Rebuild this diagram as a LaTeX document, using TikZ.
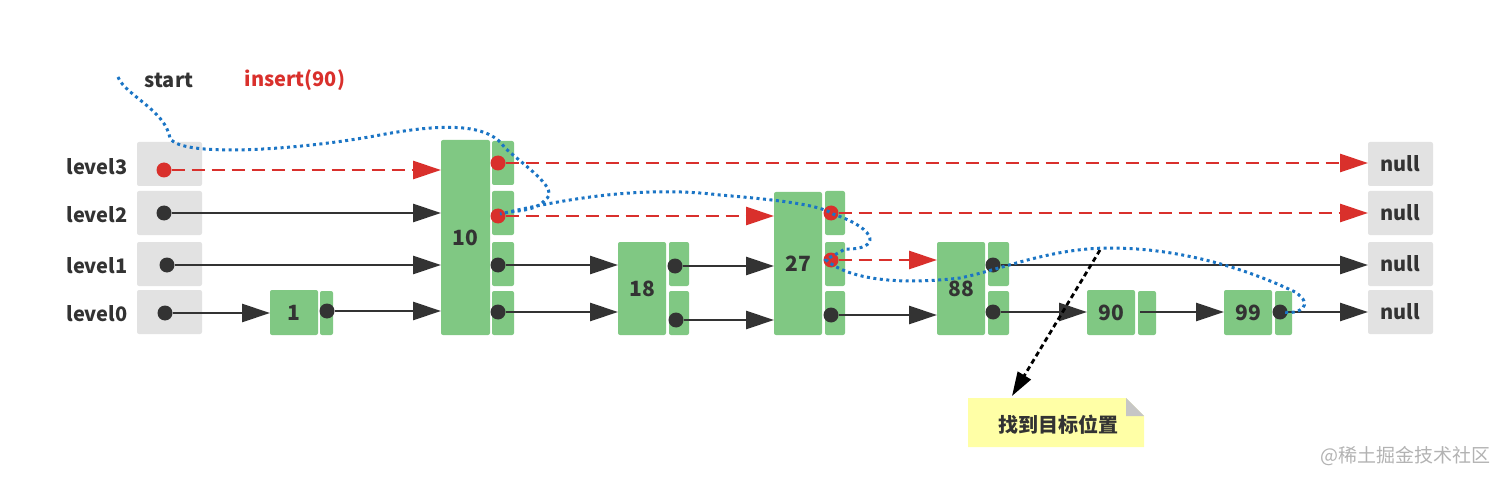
\documentclass[tikz,border=0pt]{standalone}
\usepackage{fontspec}
\setmainfont{Noto Sans CJK SC}
\usetikzlibrary{arrows.meta}
\definecolor{gr}{HTML}{80C883}
\definecolor{gy}{HTML}{E2E2E2}
\definecolor{rd}{HTML}{D9302C}
\definecolor{bk}{HTML}{333333}
\definecolor{bl}{HTML}{1B75C5}
\definecolor{yl}{HTML}{FFFFA6}
\begin{document}
\begin{tikzpicture}[x=1pt,y=-1pt,
  cellg/.style={fill=gy,draw=none,rounded corners=2pt},
  cellb/.style={fill=gr,draw=none,rounded corners=2pt},
  lbl/.style={font=\bfseries\fontsize{20}{22}\selectfont,text=bk},
  num/.style={font=\bfseries\fontsize{21}{23}\selectfont,text=bk},
  dot/.style={circle,fill=bk,inner sep=0,minimum size=15pt},
  rdot/.style={circle,fill=rd,inner sep=0,minimum size=15pt},
  ar/.style={line width=2.8pt,draw=bk,-{Triangle[length=28pt,width=18pt]}},
  rar/.style={line width=2.8pt,draw=rd,dash pattern=on 13pt off 7pt,-{Triangle[length=28pt,width=18pt,fill=rd]}}]
\useasboundingbox (0,0) rectangle (1512,481);
% labels
\node[lbl] (l3) at (97,167) {level3};
\node[lbl] (l2) at (97,215) {level2};
\node[lbl] (l1) at (97,266) {level1};
\node[lbl] (l0) at (97,314) {level0};
\node[lbl] (st) at (169,80) {start};
\node[lbl,text=rd] (ins) at (295,80) {insert(90)};
% start and null columns
\foreach \r/\a/\b in {3/142/186,2/191/235,1/242/286,0/290/334}{
  \path[cellg] (137,\a) rectangle (202,\b);
  \path[cellg] (1368,\a) rectangle (1433,\b);
  \node[lbl] (null\r) at (1400,{(\a+\b)/2}) {null};
}
% body nodes
\newcommand{\bodyn}[5]{%
  \path[cellb] (#2,#4) rectangle (#3,335);
  \node[num] (#1) at ({(#2+#3)/2},{(#4+335)/2}) {#5};
}
\bodyn{n1}{270}{318}{290}{1}
\bodyn{n10}{441}{490}{140}{10}
\bodyn{n18}{618}{666}{242}{18}
\bodyn{n27}{774}{822}{192}{27}
\bodyn{n88}{937}{985}{242}{88}
\bodyn{n90}{1087}{1135}{290}{90}
\bodyn{n99}{1224}{1272}{290}{99}
% side cells
\foreach \x/\w/\rows in {320/13/0,492/22/{0,1,2,3},669/20/{0,1},825/20/{0,1,2},988/21/{0,1},1138/18/0,1275/17/0}{
  \foreach \r in \rows{
    \pgfmathsetmacro\ya{ifthenelse(\r==3,141,ifthenelse(\r==2,191,ifthenelse(\r==1,242,291)))}
    \pgfmathsetmacro\yb{\ya+44}
    \path[cellb] (\x,\ya) rectangle ({\x+\w},\yb);
  }
}
% dots
\node[rdot] (s3) at (164,170) {};
\node[dot] (s2) at (164,213) {};
\node[dot] (s1) at (167,265) {};
\node[dot] (s0) at (165,313) {};
\node[dot] (d1) at (327,311) {};
\node[rdot] (a3) at (498,163) {};
\node[rdot] (a2) at (498,216) {};
\node[dot] (a1) at (498,265) {};
\node[dot] (a0) at (498,312) {};
\node[dot] (b1) at (675,266) {};
\node[dot] (b0) at (676,320) {};
\node[rdot] (c2) at (831,213) {};
\node[rdot] (c1) at (831,260) {};
\node[dot] (c0) at (831,315) {};
\node[dot] (e1) at (993,265) {};
\node[dot] (e0) at (993,312) {};
\coordinate (f0) at (1140,312);
\node[dot] (g0) at (1280,312) {};
% arrows
\draw[rar] (s3) -- (441,170);
\draw[rar] (a3) -- (1368,163);
\draw[ar] (s2) -- (441,213);
\draw[rar] (a2) -- (774,216);
\draw[rar] (c2) -- (1368,213);
\draw[ar] (s1) -- (441,265);
\draw[ar] (a1) -- (618,265);
\draw[ar] (b1) -- (774,266);
\draw[rar] (c1) -- (937,260);
\draw[ar] (e1) -- (1368,265);
\draw[ar] (s0) -- (270,313);
\draw[ar] (d1) -- (441,311);
\draw[ar] (a0) -- (618,312);
\draw[ar] (b0) -- (774,320);
\draw[ar] (c0) -- (937,315);
\draw[ar] (e0) -- (1087,312);
\draw[ar] (f0) -- (1224,312);
\draw[ar] (g0) -- (1368,312);
% note
\path[fill=yl] (968,398) -- (1126,398) -- (1144,416) -- (1144,447) -- (968,447) -- cycle;
\path[fill=gray!45] (1126,398) -- (1144,416) -- (1126,416) -- cycle;
\node[lbl] (note) at (1058,425) {找到目标位置};
\coordinate (np) at (1100,250);
\draw[line width=2.8pt,draw=black,dash pattern=on 5pt off 3.5pt,-{Triangle[length=24pt,width=15pt]}] (np) -- (1012,396);
% blue path
\coordinate (bs) at (118,77);
\draw[bl,line width=3pt,dash pattern=on 3pt off 3.5pt]
  (bs) .. controls (125,95) and (165,110) .. (170,138)
  .. controls (180,158) and (300,150) .. (380,135)
  .. controls (450,122) and (490,125) .. (505,148)
  .. controls (530,170) and (560,190) .. (545,200)
  .. controls (535,212) and (515,210) .. (500,214)
  .. controls (560,200) and (640,185) .. (720,195)
  .. controls (780,200) and (820,205) .. (833,214)
  .. controls (880,230) and (880,250) .. (845,249)
  .. controls (835,255) and (828,258) .. (826,260)
  .. controls (850,280) and (900,285) .. (960,278)
  .. controls (1000,270) and (1050,248) .. (1110,248)
  .. controls (1190,248) and (1260,275) .. (1295,292)
  .. controls (1315,305) and (1300,315) .. (1282,312);
\node[font=\fontsize{19}{21}\selectfont,text=gray!60] (wm) at (1405,456) {@稀土掘金技术社区};
\end{tikzpicture}
\end{document}
